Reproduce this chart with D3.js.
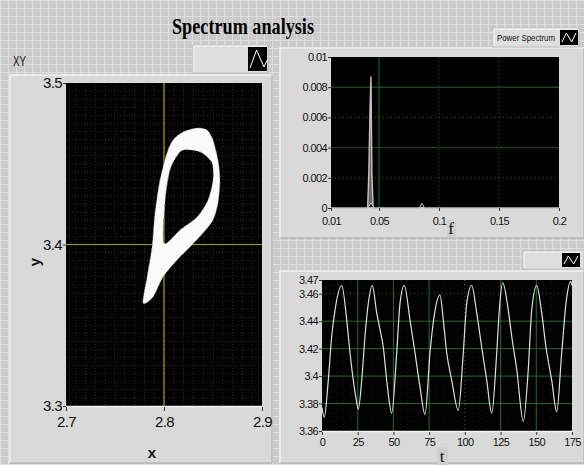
<!DOCTYPE html>
<html>
<head>
<meta charset="utf-8">
<script src="https://cdn.jsdelivr.net/npm/d3@7"></script>
<style>
  body { margin: 0; background: #cdcdcd; }
  svg { display: block; }
</style>
</head>
<body>
<svg></svg>
<script>
// XY plot: outer and inner edge of the white band
const xyOuterX = [2.7786, 2.7827, 2.7878, 2.7908, 2.7959, 2.8031, 2.8092, 2.8194, 2.8337, 2.8439,
  2.8500, 2.8551, 2.8571, 2.8551, 2.8500, 2.8398, 2.8265, 2.8133, 2.7990, 2.7888]
const xyOuterY = [3.3638, 3.3799, 3.3985, 3.4195, 3.4399, 3.4567, 3.4647, 3.4697, 3.4721, 3.4709,
  3.4647, 3.4523, 3.4399, 3.4257, 3.4152, 3.4071, 3.3985, 3.3904, 3.3799, 3.3675]
const xyInnerX = [2.8163, 2.8061, 2.8010, 2.8000, 2.8163, 2.8337, 2.8449, 2.8500, 2.8490, 2.8388, 2.8265]
const xyInnerY = [3.4573, 3.4461, 3.4257, 3.4009, 3.4090, 3.4170, 3.4276, 3.4399, 3.4505, 3.4567, 3.4585]

// power spectrum
const specF = [0.01, 0.0405, 0.0415, 0.0425, 0.0433, 0.0441, 0.0451, 0.084, 0.0858, 0.0876, 0.2]
const specP = [0, 0, 0.0022, 0.0065, 0.0087, 0.0022, 0, 0, 0.0001, 0, 0]

// time series
const timeT = [0, 1.6, 4.4, 6.8, 9.1, 13.8, 17.3, 19.6, 21.9, 23.6, 25.4, 27.8, 30.1, 32.4, 35.2,
  38.3, 40.6, 42.9, 45.3, 48.8, 52.3, 54.6, 57.6, 61.6, 65.1, 68.6, 72.1, 75.6, 78.4, 82.6,
  84.9, 87.3, 90.8, 95.4, 98.9, 101.3, 104.8, 108.3, 111.8, 115.3, 118.8, 122.3, 124.1, 126.5,
  130.4, 132.8, 136.3, 140.9, 144.4, 146.8, 150.3, 153.8, 156.8, 160.8, 164.3, 167.8, 170.8, 174.1, 175]
const timeV = [3.377, 3.370, 3.397, 3.429, 3.448, 3.466, 3.441, 3.417, 3.397, 3.385, 3.376, 3.397, 3.429, 3.453, 3.466,
  3.446, 3.434, 3.421, 3.397, 3.373, 3.417, 3.453, 3.466, 3.441, 3.417, 3.392, 3.372, 3.417, 3.443, 3.459,
  3.441, 3.417, 3.397, 3.375, 3.417, 3.453, 3.466, 3.446, 3.421, 3.397, 3.373, 3.417, 3.448, 3.468,
  3.448, 3.429, 3.405, 3.367, 3.405, 3.448, 3.466, 3.446, 3.421, 3.397, 3.374, 3.417, 3.453, 3.469, 3.466]

const xyTicksX = [2.7, 2.8, 2.9]
const xyTicksY = [3.3, 3.4, 3.5]
const specTicksX = [0.01, 0.05, 0.1, 0.15, 0.2]
const specTicksY = [0, 0.002, 0.004, 0.006, 0.008, 0.01]
const timeTicksX = [0, 25, 50, 75, 100, 125, 150, 175]
const timeTicksY = [3.36, 3.38, 3.4, 3.42, 3.44, 3.46, 3.47]

const W = 584
const H = 465
const tickFont = "'Liberation Sans', Arial, sans-serif"

let svg = d3.select('svg').attr('width', W).attr('height', H)
let defs = svg.append('defs')

// LabVIEW front panel grid
let pat = defs.append('pattern').attr('id', 'panelGrid')
  .attr('width', 8).attr('height', 8).attr('patternUnits', 'userSpaceOnUse')
pat.append('rect').attr('width', 8).attr('height', 8).attr('fill', '#cbcbcb')
pat.append('path').attr('d', 'M0,0.5H8M0.5,0V8').attr('stroke', '#dedede').attr('stroke-width', 1)

svg.append('rect').attr('width', W).attr('height', H).attr('fill', 'url(#panelGrid)')

function panel (x, y, w, h) {
  svg.append('rect').attr('x', x).attr('y', y).attr('width', w).attr('height', h)
    .attr('fill', '#d9d9d9')
  svg.append('path').attr('d', `M${x},${y + h}V${y}H${x + w}`)
    .attr('stroke', '#f2f2f2').attr('fill', 'none').attr('stroke-width', 1.5)
  svg.append('path').attr('d', `M${x},${y + h}H${x + w}V${y}`)
    .attr('stroke', '#a8a8a8').attr('fill', 'none').attr('stroke-width', 1)
}

function iconButton (x, y, w, h, ix, iw, shape) {
  svg.append('rect').attr('x', x).attr('y', y).attr('width', w).attr('height', h)
    .attr('fill', '#dedede').attr('stroke', '#bdbdbd')
  svg.append('path').attr('d', `M${x + 1},${y + h - 1}V${y + 1}H${x + w - 1}`)
    .attr('stroke', '#fafafa').attr('fill', 'none')
  svg.append('rect').attr('x', ix).attr('y', y + 2).attr('width', iw).attr('height', h - 4)
    .attr('fill', '#000')
  svg.append('path').attr('d', shape(ix, y + 2, iw, h - 4))
    .attr('stroke', '#fff').attr('fill', 'none').attr('stroke-width', 1)
}

const peakShape = (x, y, w, h) => `M${x + 2},${y + h - 3}L${x + w * 0.45},${y + 3}L${x + w - 3},${y + h - 4}L${x + w},${y + h * 0.55}`
const waveShape = (x, y, w, h) => `M${x + 2},${y + h - 3}L${x + w * 0.35},${y + 3}L${x + w * 0.65},${y + h - 3}L${x + w - 2},${y + 3}`

function styleAxis (g, size) {
  g.selectAll('text').attr('font-family', tickFont).attr('font-size', size).attr('fill', '#111')
    .attr('letter-spacing', -0.6)
  g.selectAll('line').attr('stroke', '#333')
  g.select('.domain').remove()
}

// ---------- title ----------
svg.append('text').attr('x', 243).attr('y', 34).attr('text-anchor', 'middle')
  .attr('font-family', "'Liberation Serif', serif").attr('font-weight', 'bold')
  .attr('font-size', 24).attr('textLength', 142).attr('lengthAdjust', 'spacingAndGlyphs')
  .text('Spectrum analysis')

// ---------- XY graph ----------
panel(10, 75, 262, 388)
svg.append('text').attr('x', 13).attr('y', 66).attr('font-family', tickFont)
  .attr('font-size', 14).attr('fill', '#111').attr('textLength', 13).attr('lengthAdjust', 'spacingAndGlyphs').text('XY')
iconButton(193, 45, 75, 28, 248, 19, peakShape)

let xyX = d3.scaleLinear().domain([2.7, 2.9]).range([66, 262])
let xyY = d3.scaleLinear().domain([3.3, 3.5]).range([406, 83])

svg.append('rect').attr('x', 66).attr('y', 83).attr('width', 196).attr('height', 323).attr('fill', '#000')

let xyGrid = svg.append('g')
d3.range(2.71, 2.9, 0.01).forEach(v => {
  xyGrid.append('line').attr('x1', xyX(v)).attr('x2', xyX(v)).attr('y1', 83).attr('y2', 406)
})
d3.range(3.305, 3.5, 0.005).forEach(v => {
  xyGrid.append('line').attr('x1', 66).attr('x2', 262).attr('y1', xyY(v)).attr('y2', xyY(v))
})
xyGrid.selectAll('line').attr('stroke', '#2e2e2e').attr('stroke-dasharray', '1,2')

svg.append('line').attr('x1', xyX(2.8)).attr('x2', xyX(2.8)).attr('y1', 83).attr('y2', 406)
  .attr('stroke', '#a89d00').attr('stroke-width', 1.2)
svg.append('line').attr('x1', 66).attr('x2', 262).attr('y1', xyY(3.4)).attr('y2', xyY(3.4))
  .attr('stroke', '#a89d00').attr('stroke-width', 1.2)

let loopLine = d3.line().x(d => xyX(d[0])).y(d => xyY(d[1])).curve(d3.curveCardinalClosed.tension(0.2))
let outer = d3.zip(xyOuterX, xyOuterY)
let inner = d3.zip(xyInnerX, xyInnerY)
svg.append('path').attr('d', loopLine(outer) + loopLine(inner))
  .attr('fill', '#fafafa').attr('fill-rule', 'evenodd')
svg.append('path').attr('d', loopLine(inner)).attr('fill', 'none')
  .attr('stroke', '#777').attr('stroke-width', 0.8).attr('stroke-dasharray', '3,4')
svg.append('path').attr('d', loopLine(outer)).attr('fill', 'none')
  .attr('stroke', '#999').attr('stroke-width', 0.6).attr('stroke-dasharray', '5,3')

svg.append('line').attr('x1', 66).attr('x2', 262).attr('y1', 406.5).attr('y2', 406.5)
  .attr('stroke', '#f4f4f4').attr('stroke-width', 1.5)

svg.append('g').attr('transform', 'translate(66,0)')
  .call(d3.axisLeft(xyY).tickValues(xyTicksY).tickSize(3).tickPadding(1).tickFormat(d3.format('.1f')))
  .call(g => styleAxis(g, 15))
svg.append('g').attr('transform', 'translate(0,407)')
  .call(d3.axisBottom(xyX).tickValues(xyTicksX).tickSize(4).tickPadding(5).tickFormat(d3.format('.1f')))
  .call(g => styleAxis(g, 15))

svg.append('text').attr('x', 152).attr('y', 458).attr('text-anchor', 'middle')
  .attr('font-family', tickFont).attr('font-weight', 'bold').attr('font-size', 15).attr('fill', '#111').text('x')
svg.append('text').attr('transform', 'translate(40,262) rotate(-90)').attr('text-anchor', 'middle')
  .attr('font-family', tickFont).attr('font-weight', 'bold').attr('font-size', 15).attr('fill', '#111').text('y')

// ---------- power spectrum ----------
panel(280, 48, 304, 190)
iconButton(493, 28, 86, 19, 560, 18, waveShape)
svg.append('text').attr('x', 497).attr('y', 41).attr('font-family', tickFont)
  .attr('font-size', 9).attr('fill', '#111').attr('textLength', 58).attr('lengthAdjust', 'spacingAndGlyphs')
  .text('Power Spectrum')

let spX = d3.scaleLinear().domain([0.01, 0.2]).range([331, 559])
let spY = d3.scaleLinear().domain([0, 0.01]).range([208, 57])

svg.append('rect').attr('x', 331).attr('y', 57).attr('width', 228).attr('height', 151).attr('fill', '#000')
let spGrid = svg.append('g')
;[0.002, 0.004, 0.006, 0.008].forEach(v => {
  spGrid.append('line').attr('x1', 331).attr('x2', 559).attr('y1', spY(v)).attr('y2', spY(v))
    .attr('stroke-dasharray', v === 0.008 ? null : (v === 0.004 ? '3,1' : '1,3'))
})
;[0.05, 0.1, 0.15].forEach(v => {
  spGrid.append('line').attr('x1', spX(v)).attr('x2', spX(v)).attr('y1', 57).attr('y2', 208)
    .attr('stroke-dasharray', v === 0.05 ? null : '1,3')
})
spGrid.selectAll('line').attr('stroke', '#1f6b1f').attr('stroke-width', 1)

let spLine = d3.line().x((d, i) => spX(specF[i])).y((d, i) => spY(specP[i]))
svg.append('path').attr('d', spLine(specF)).attr('fill', '#666')
  .attr('stroke', '#c4c4c4').attr('stroke-width', 1.4)
svg.append('path').attr('d', d3.symbol(d3.symbolTriangle, 14)())
  .attr('transform', `translate(${spX(0.0433)},${spY(0) - 2})`).attr('fill', '#000').attr('stroke', '#ccc')
svg.append('path').attr('d', d3.symbol(d3.symbolTriangle, 10)())
  .attr('transform', `translate(${spX(0.0858)},${spY(0) - 2})`).attr('fill', '#000').attr('stroke', '#ccc')

svg.append('g').attr('transform', 'translate(331,0)')
  .call(d3.axisLeft(spY).tickValues(specTicksY).tickSize(3).tickPadding(1).tickFormat(d => d === 0 ? '0' : String(+d.toFixed(3))))
  .call(g => styleAxis(g, 11))
svg.append('g').attr('transform', 'translate(0,208)')
  .call(d3.axisBottom(spX).tickValues(specTicksX).tickSize(3).tickPadding(6).tickFormat(d => String(d)))
  .call(g => styleAxis(g, 11))
svg.append('rect').attr('x', 447).attr('y', 220).attr('width', 9).attr('height', 17).attr('fill', '#cfcfcf')
svg.append('text').attr('x', 451).attr('y', 234).attr('text-anchor', 'middle')
  .attr('font-family', "'Liberation Serif', serif").attr('font-size', 17).attr('fill', '#111').text('f')

// ---------- time series ----------
iconButton(523, 251, 61, 18, 562, 18, waveShape)
panel(280, 271, 304, 192)

let tsX = d3.scaleLinear().domain([0, 175]).range([322, 572])
let tsY = d3.scaleLinear().domain([3.36, 3.47]).range([431, 280])

svg.append('rect').attr('x', 322).attr('y', 280).attr('width', 250).attr('height', 151).attr('fill', '#000')
let tsGrid = svg.append('g')
d3.range(5, 175, 5).forEach(v => {
  tsGrid.append('line').attr('x1', tsX(v)).attr('x2', tsX(v)).attr('y1', 280).attr('y2', 431)
    .attr('stroke', '#151f15').attr('stroke-dasharray', '1,3')
})
;[3.38, 3.4, 3.42, 3.44, 3.46].forEach(v => {
  tsGrid.append('line').attr('x1', 322).attr('x2', 572).attr('y1', tsY(v)).attr('y2', tsY(v))
    .attr('stroke', '#1f6b1f').attr('stroke-dasharray', v === 3.46 ? '1,3' : null)
})
;[25, 50, 75, 100, 125, 150].forEach(v => {
  tsGrid.append('line').attr('x1', tsX(v)).attr('x2', tsX(v)).attr('y1', 280).attr('y2', 431)
    .attr('stroke', '#1f6b1f').attr('stroke-dasharray', v === 100 ? '1,3' : null)
})

let tsLine = d3.line().x((d, i) => tsX(timeT[i])).y((d, i) => tsY(timeV[i])).curve(d3.curveMonotoneX)
svg.append('path').attr('d', tsLine(timeT)).attr('fill', 'none')
  .attr('stroke', '#e0e0e0').attr('stroke-width', 1.2)

svg.append('line').attr('x1', 322).attr('x2', 572).attr('y1', 431.5).attr('y2', 431.5)
  .attr('stroke', '#f4f4f4').attr('stroke-width', 1.5)

svg.append('g').attr('transform', 'translate(322,0)')
  .call(d3.axisLeft(tsY).tickValues(timeTicksY).tickSize(3).tickPadding(1).tickFormat(d => String(+d.toFixed(2))))
  .call(g => styleAxis(g, 11))
svg.append('g').attr('transform', 'translate(0,432)')
  .call(d3.axisBottom(tsX).tickValues(timeTicksX).tickSize(3).tickPadding(3))
  .call(g => styleAxis(g, 11))
svg.append('rect').attr('x', 437).attr('y', 447).attr('width', 11).attr('height', 18).attr('fill', '#cfcfcf')
svg.append('text').attr('x', 442).attr('y', 462).attr('text-anchor', 'middle')
  .attr('font-family', "'Liberation Serif', serif").attr('font-size', 17).attr('fill', '#111').text('t')
</script>
</body>
</html>
